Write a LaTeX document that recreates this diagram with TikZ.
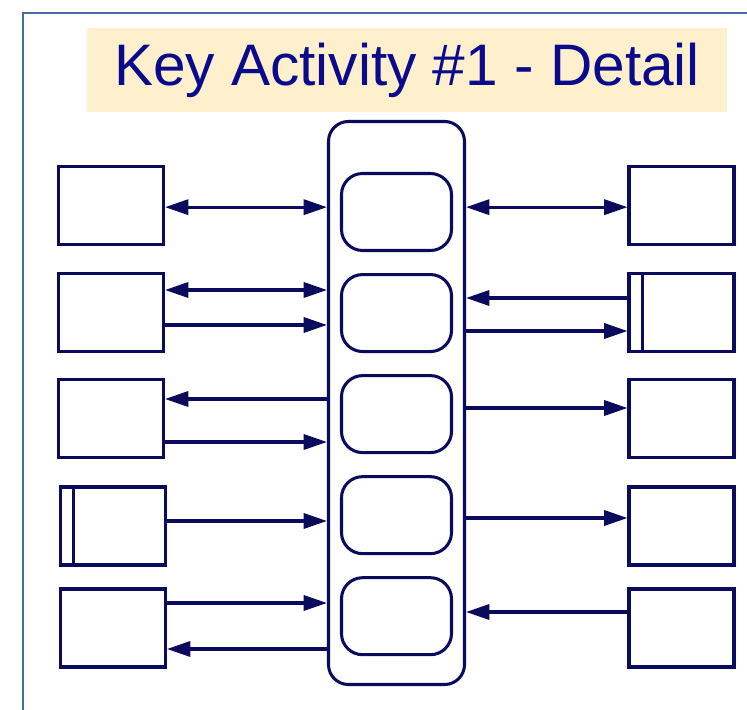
\documentclass[tikz,border=0pt]{standalone}
\usepackage{fontspec}
\usepackage{xcolor}
\usetikzlibrary{arrows.meta,positioning}
\newfontfamily\headfont{Liberation Sans}

\definecolor{navy}{HTML}{0B0B5E}
\definecolor{headblue}{HTML}{0A0A8C}
\definecolor{framebl}{HTML}{4A6AA5}
\definecolor{cream}{HTML}{FFF0CD}

\begin{document}
\begin{tikzpicture}[
  x=0.03cm, y=-0.03cm,
  >={Triangle[length=20pt,width=13pt]},
  line width=2.6pt,
  node distance=6.3mm,
  head/.style={fill=cream, text=headblue, inner sep=0pt, minimum width=19.2cm, minimum height=2.52cm, font=\headfont\fontsize{50}{56}\selectfont},
  hub/.style={draw=navy, rounded corners=17pt, minimum width=4.08cm, minimum height=16.89cm},
  slot/.style={draw=navy, rounded corners=18pt, minimum width=3.3cm, minimum height=2.31cm},
  party/.style={draw=navy, minimum width=3.15cm, minimum height=2.34cm},
  store/.style={party, path picture={\draw[navy] ([xshift=0.4cm]path picture bounding box.north west) -- ([xshift=0.4cm]path picture bounding box.south west);}},
  edge/.style={->, draw=navy},
  both/.style={<->, draw=navy}
]
\useasboundingbox (0,0) rectangle (747,710);

% frame and title
\coordinate (fbot) at (23,720);
\coordinate (fcorner) at (23,13);
\coordinate (fright) at (760,13);
\draw[framebl, line width=1.6pt] (fbot) -- (fcorner) -- (fright);
\node[head] (title) at (407,70) {Key Activity \#1 - Detail};

% central activity
\node[hub] (hub) at (396.5,403) {};
\node[slot] (s1) at (396.5,212) {};
\node[slot, below=of s1] (s2) {};
\node[slot, below=of s2] (s3) {};
\node[slot, below=of s3] (s4) {};
\node[slot, below=of s4] (s5) {};

% left side
\node[party] (l1) at (111,205.5) {};
\node[party] (l2) at (111,312.5) {};
\node[party] (l3) at (111,418.5) {};
\node[store] (l4) at (113,526) {};
\node[party] (l5) at (113,628) {};

% right side
\node[party] (r1) at (681.5,205.5) {};
\node[store] (r2) at (681.5,312.5) {};
\node[party] (r3) at (681.5,418.5) {};
\node[party] (r4) at (681.5,526) {};
\node[party] (r5) at (681.5,628) {};

% left connectors
\draw[both] ([yshift=-0.05cm]l1.east) -- ([yshift=-0.05cm]l1.east -| hub.west);
\draw[both] ([yshift=0.675cm]l2.east) -- ([yshift=0.675cm]l2.east -| hub.west);
\draw[edge] ([yshift=-0.375cm]l2.east) -- ([yshift=-0.375cm]l2.east -| hub.west);
\draw[edge] ([yshift=0.585cm]l3.east -| hub.west) -- ([yshift=0.585cm]l3.east);
\draw[edge] ([yshift=-0.705cm]l3.east) -- ([yshift=-0.705cm]l3.east -| hub.west);
\draw[edge] ([yshift=0.15cm]l4.east) -- ([yshift=0.15cm]l4.east -| hub.west);
\draw[edge] ([yshift=0.75cm]l5.east) -- ([yshift=0.75cm]l5.east -| hub.west);
\draw[edge] ([yshift=-0.63cm]l5.east -| hub.west) -- ([yshift=-0.63cm]l5.east);

% right connectors
\draw[both] ([yshift=-0.05cm]r1.west -| hub.east) -- ([yshift=-0.05cm]r1.west);
\draw[edge] ([yshift=0.435cm]r2.west) -- ([yshift=0.435cm]r2.west -| hub.east);
\draw[edge] ([yshift=-0.555cm]r2.west -| hub.east) -- ([yshift=-0.555cm]r2.west);
\draw[edge] ([yshift=0.315cm]r3.west -| hub.east) -- ([yshift=0.315cm]r3.west);
\draw[edge] ([yshift=0.24cm]r4.west -| hub.east) -- ([yshift=0.24cm]r4.west);
\draw[edge] ([yshift=0.48cm]r5.west) -- ([yshift=0.48cm]r5.west -| hub.east);
\end{tikzpicture}
\end{document}
